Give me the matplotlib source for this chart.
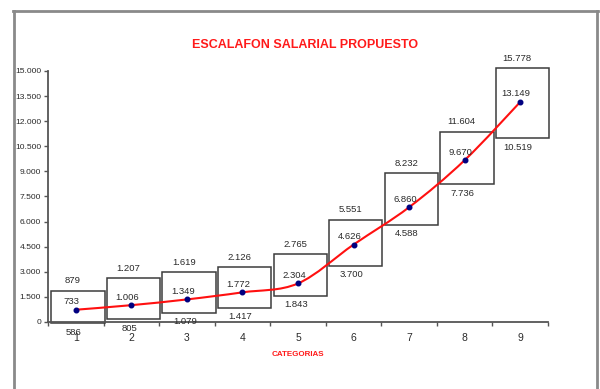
import numpy as np
import matplotlib
matplotlib.use("Agg")
import matplotlib.pyplot as plt
from matplotlib.path import Path
from matplotlib.patches import PathPatch
from matplotlib.lines import Line2D
from matplotlib.ticker import FixedLocator, FuncFormatter

# Salary scale by category
categorias = [1, 2, 3, 4, 5, 6, 7, 8, 9]
salario_medio = [733, 1006, 1349, 1772, 2304, 4626, 6860, 9670, 13149]
salario_max = [879, 1207, 1619, 2126, 2765, 5551, 8232, 11604, 15778]
salario_min = [586, 805, 1079, 1417, 1843, 3700, 4588, 7736, 10519]
# Band rectangles (lower and upper edge) for each category
banda_inf = [-60, 160, 556, 855, 1572, 3347, 5797, 8247, 10978]
banda_sup = [1870, 2611, 2970, 3269, 4034, 6096, 8886, 11373, 15161]
y_ticks = [0, 1500, 3000, 4500, 6000, 7500, 9000, 10500, 12000, 13500, 15000]


def miles(v, pos=None):
    return f"{int(round(v)):,}".replace(",", ".")


plt.rcParams['font.family'] = ['Liberation Sans', 'DejaVu Sans']

W, H = 600, 389
fig = plt.figure(figsize=(W / 100, H / 100), dpi=100)
fig.patch.set_facecolor('white')

# outer frame (top, left, right)
frame_c = '#8a8a8a'
fig.add_artist(Line2D([13 / W, 598 / W], [1 - 10.5 / H] * 2, color=frame_c, lw=2.0))
fig.add_artist(Line2D([13.5 / W, 13.5 / W], [1 - 10.5 / H, 0], color=frame_c, lw=2.0))
fig.add_artist(Line2D([597 / W, 597 / W], [1 - 10.5 / H, 0], color=frame_c, lw=2.0))

ax = fig.add_axes([48 / W, 1 - 322 / H, 500 / W, 251 / H])
ax.set_xlim(0.5, 9.5)
ax.set_ylim(0, 15000)

x = np.array(categorias, dtype=float)
inf = np.array(banda_inf, dtype=float)
sup = np.array(banda_sup, dtype=float)

# band rectangles
ax.bar(x + 0.04, sup - inf, bottom=inf, width=0.96, fill=False,
       edgecolor='#3c3c3c', linewidth=1.1, clip_on=False, zorder=2)

# smoothed line through the mid salaries
mid = np.array(salario_medio, dtype=float)
pts = np.column_stack([x, mid])
ext = np.vstack([pts[0], pts, pts[-1]])
verts = [tuple(pts[0])]
codes = [Path.MOVETO]
for i in range(len(pts) - 1):
    p0, p1, p2, p3 = ext[i], ext[i + 1], ext[i + 2], ext[i + 3]
    c1 = p1 + (p2 - p0) / 6.0
    c2 = p2 - (p3 - p1) / 6.0
    verts += [tuple(c1), tuple(c2), tuple(p2)]
    codes += [Path.CURVE4] * 3
ax.add_patch(PathPatch(Path(verts, codes), fill=False, edgecolor='#ff1010',
                       lw=1.5, zorder=3))
ax.plot(x, mid, 'o', color='#000080', ms=3.3, zorder=4)

lab_kw = dict(textcoords='offset pixels', ha='center', va='center',
              fontsize=6.8, color='#2a2a2a', zorder=5, annotation_clip=False)
for xi, m, hi, lo, b0, b1 in zip(x, mid, salario_max, salario_min, inf, sup):
    ax.annotate(miles(hi), (xi, b1), xytext=(-3, 10), **lab_kw)
    ax.annotate(miles(m), (xi, m), xytext=(-4, 8), **lab_kw)
    ax.annotate(miles(lo), (xi, b0), xytext=(-2, -9), **lab_kw)

# axes styling
for s in ('top', 'right'):
    ax.spines[s].set_visible(False)
for s in ('left', 'bottom'):
    ax.spines[s].set_color('#555555')
    ax.spines[s].set_linewidth(1.3)

ax.yaxis.set_major_locator(FixedLocator(y_ticks))
ax.yaxis.set_major_formatter(FuncFormatter(miles))
ax.tick_params(axis='y', direction='out', length=3, width=1, color='#555555',
               labelsize=6.1, labelcolor='#2a2a2a', pad=2)

ax.xaxis.set_major_locator(FixedLocator(categorias))
ax.set_xticklabels([str(c) for c in categorias])
ax.xaxis.set_minor_locator(FixedLocator(np.arange(0.5, 10, 1.0)))
ax.tick_params(axis='x', which='major', length=0, labelsize=7.5,
               labelcolor='#2a2a2a', pad=8)
ax.tick_params(axis='x', which='minor', direction='out', length=3, width=1,
               color='#555555')

fig.text(305 / W, 1 - 45 / H, 'ESCALAFON SALARIAL PROPUESTO', color='#ff1a1a',
         fontweight='bold', fontsize=9, ha='center', va='center')
fig.text(298 / W, 1 - 354 / H, 'CATEGORIAS', color='#ff1a1a',
         fontweight='bold', fontsize=5.8, ha='center', va='center')

fig.savefig('out.png', dpi=100, facecolor='white')
